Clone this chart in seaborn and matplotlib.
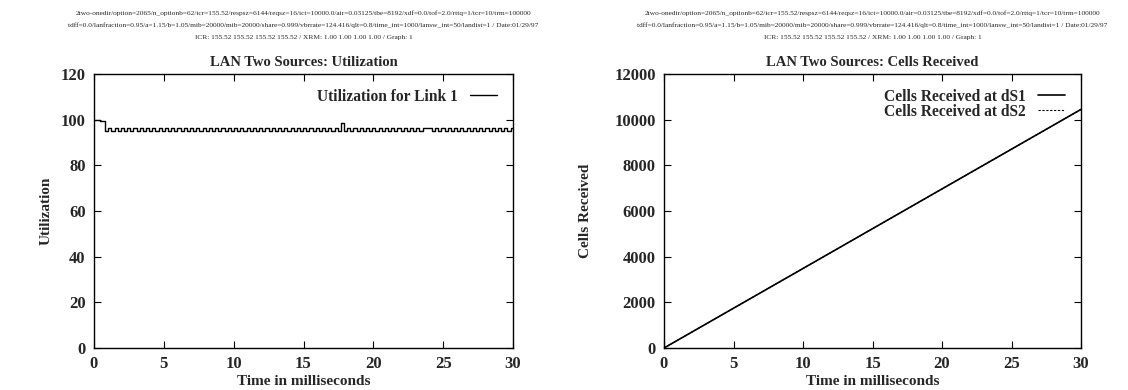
import numpy as np
import pandas as pd
import matplotlib
matplotlib.use("Agg")
import matplotlib.pyplot as plt
import seaborn as sns

# ---------------- data ----------------
header_lines = [
    "2two-onedir/option=2065/n_optionb=62/icr=155.52/respsz=6144/reqsz=16/ict=10000.0/air=0.03125/tbe=8192/xdf=0.0/tof=2.0/rttq=1/tcr=10/trm=100000",
    "tdff=0.0/lanfraction=0.95/a=1.15/b=1.05/mib=20000/mib=20000/share=0.999/vbrrate=124.416/qlt=0.8/time_int=1000/lansw_int=50/landist=1 / Date:01/29/97",
    "ICR: 155.52 155.52 155.52 155.52 / XRM: 1.00 1.00 1.00 1.00 / Graph: 1",
]

util_time = [
    0.0, 0.45,
    0.800, 1.025, 1.250, 1.475,
    1.700, 1.925, 2.150, 2.375,
    2.600, 2.825, 3.050, 3.275,
    3.500, 3.725, 3.950, 4.175,
    4.400, 4.625, 4.850, 5.075,
    5.300, 5.525, 5.750, 5.975,
    6.200, 6.425, 6.650, 6.875,
    7.100, 7.325, 7.550, 7.775,
    8.000, 8.225, 8.450, 8.675,
    8.900, 9.125, 9.350, 9.575,
    9.800, 10.025, 10.250, 10.475,
    10.700, 10.925, 11.150, 11.375,
    11.600, 11.825, 12.050, 12.275,
    12.500, 12.725, 12.950, 13.175,
    13.400, 13.625, 13.850, 14.075,
    14.300, 14.525, 14.750, 14.975,
    15.200, 15.425, 15.650, 15.875,
    16.100, 16.325, 16.550, 16.775,
    17.000, 17.225, 17.450, 17.675,
    17.900, 18.125, 18.350, 18.575,
    18.800, 19.025, 19.250, 19.475,
    19.700, 19.925, 20.150, 20.375,
    20.600, 20.825, 21.050, 21.275,
    21.500, 21.725, 21.950, 22.175,
    22.400, 22.625, 22.850, 23.075,
    23.300, 23.525, 23.750, 23.975,
    24.200, 24.425, 24.650, 24.875,
    25.100, 25.325, 25.550, 25.775,
    26.000, 26.225, 26.450, 26.675,
    26.900, 27.125, 27.350, 27.575,
    27.800, 28.025, 28.250, 28.475,
    28.700, 28.925, 29.150, 29.375,
    29.600, 29.825, 30.0,
]

util_value = [
    100.0, 99.2,
    95.2, 96.4, 95.2, 96.4,
    95.2, 96.4, 95.2, 96.4,
    95.2, 96.4, 95.2, 96.4,
    95.2, 96.4, 95.2, 96.4,
    95.2, 96.4, 95.2, 96.4,
    95.2, 96.4, 95.2, 96.4,
    95.2, 96.4, 95.2, 96.4,
    95.2, 96.4, 95.2, 96.4,
    95.2, 96.4, 95.2, 96.4,
    95.2, 96.4, 95.2, 96.4,
    95.2, 96.4, 95.2, 96.4,
    95.2, 96.4, 95.2, 96.4,
    95.2, 96.4, 95.2, 96.4,
    95.2, 96.4, 95.2, 96.4,
    95.2, 96.4, 95.2, 96.4,
    95.2, 96.4, 95.2, 96.4,
    95.2, 96.4, 95.2, 96.4,
    95.2, 96.4, 95.2, 96.4,
    95.2, 96.4, 95.2, 98.5,
    95.2, 96.4, 95.2, 96.4,
    95.2, 96.4, 95.2, 96.4,
    95.2, 96.4, 95.2, 96.4,
    95.2, 96.4, 95.2, 96.4,
    95.2, 96.4, 95.2, 96.4,
    95.2, 96.4, 95.2, 96.4,
    95.2, 96.4, 96.4, 96.4,
    95.2, 96.4, 95.2, 96.4,
    95.2, 96.4, 95.2, 96.4,
    95.2, 96.4, 95.2, 96.4,
    95.2, 96.4, 95.2, 96.4,
    95.2, 96.4, 95.2, 96.4,
    95.2, 96.4, 95.2, 96.4,
    95.2, 96.4, 96.4,
]

cells_time = [0, 5, 10, 15, 20, 25, 30]
cells_ds1 = [0, 1742, 3483, 5225, 6967, 8708, 10450]
cells_ds2 = [0, 1741, 3482, 5224, 6966, 8707, 10448]

util_label = "Utilization for Link 1"
ds1_label = "Cells Received at dS1"
ds2_label = "Cells Received at dS2"

# ---------------- style ----------------
sns.set_style("ticks")
plt.rcParams["font.family"] = ["Liberation Serif", "DejaVu Serif"]
plt.rcParams["font.weight"] = "bold"
plt.rcParams["axes.labelweight"] = "bold"
plt.rcParams["axes.titleweight"] = "bold"

fig = plt.figure(figsize=(11.28, 3.90), dpi=100)
ax1 = fig.add_axes([94 / 1128, 42 / 390, 419 / 1128, 274 / 390])
ax2 = fig.add_axes([664 / 1128, 42 / 390, 417 / 1128, 274 / 390])

util_df = pd.DataFrame({"t": util_time, "u": util_value})
cells_df = pd.DataFrame({"t": cells_time, "s1": cells_ds1, "s2": cells_ds2})

sns.lineplot(data=util_df, x="t", y="u", ax=ax1, color="black", lw=1.0,
             drawstyle="steps-post", label=util_label)
sns.lineplot(data=cells_df, x="t", y="s1", ax=ax2, color="black", lw=1.2,
             label=ds1_label)
sns.lineplot(data=cells_df, x="t", y="s2", ax=ax2, color="black", lw=0.8,
             linestyle=(0, (2, 1.5)), label=ds2_label)

def style(ax, ylim, yticks, ylabel, title, ylab_x):
    ax.set_xlim(0, 30)
    ax.set_ylim(*ylim)
    ax.set_xticks([0, 5, 10, 15, 20, 25, 30])
    ax.set_yticks(yticks)
    ax.tick_params(direction="in", length=5, width=0.8, top=True, right=True,
                   labelsize=12, color="black")
    ax.tick_params(axis="x", pad=6)
    ax.tick_params(axis="y", pad=6)
    for lab in ax.get_xticklabels() + ax.get_yticklabels():
        lab.set_fontweight("bold")
    for s in ax.spines.values():
        s.set_visible(True)
        s.set_linewidth(1.0)
        s.set_color("black")
    ax.set_xlabel("Time in milliseconds", fontsize=11, fontweight="bold")
    ax.xaxis.set_label_coords(0.5, -0.098)
    ax.set_ylabel(ylabel, fontsize=11, fontweight="bold")
    ax.yaxis.set_label_coords(ylab_x, 0.5)
    ax.set_title(title, fontsize=10.5, fontweight="bold", pad=6)
    leg = ax.legend(loc="upper right", frameon=False, markerfirst=False,
                    fontsize=11.2, handlelength=1.75, handletextpad=0.8,
                    labelspacing=-0.05, borderaxespad=0.75,
                    bbox_to_anchor=(1.005, 1.012))
    for t in leg.get_texts():
        t.set_fontweight("bold")

style(ax1, (0, 120), [0, 20, 40, 60, 80, 100, 120], "Utilization",
      "LAN Two Sources: Utilization", -0.098)
style(ax2, (0, 12000), [0, 2000, 4000, 6000, 8000, 10000, 12000], "Cells Received",
      "LAN Two Sources: Cells Received", -0.173)

# header text above each panel
for ax in (ax1, ax2):
    cx = (ax.get_position().x0 + ax.get_position().x1) / 2
    for i, line in enumerate(header_lines):
        fig.text(cx, 1 - (13 + 12 * i) / 390, line, ha="center", va="center",
                 fontsize=5.3, fontweight="normal")

fig.savefig("out.png", dpi=100)
